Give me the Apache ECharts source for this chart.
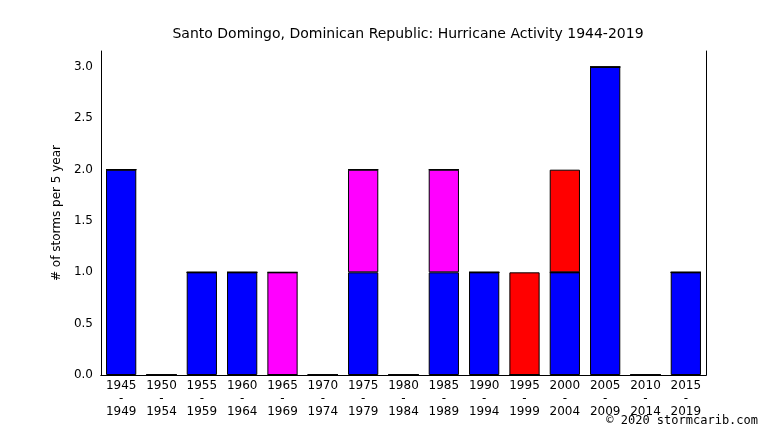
<!DOCTYPE html>
<html>
<head>
<meta charset="utf-8">
<script src="https://cdn.jsdelivr.net/npm/echarts@6/dist/echarts.min.js"></script>
<style>body{margin:0;background:#fff}#c{width:766px;height:431px}</style>
</head>
<body>
<div id="c"></div>
<script>
var periods = ['1945\n-\n1949','1950\n-\n1954','1955\n-\n1959','1960\n-\n1964','1965\n-\n1969','1970\n-\n1974','1975\n-\n1979','1980\n-\n1984','1985\n-\n1989','1990\n-\n1994','1995\n-\n1999','2000\n-\n2004','2005\n-\n2009','2010\n-\n2014','2015\n-\n2019'];
var blueVals    = [2,0,1,1,0,0,1,0,1,1,0,1,3,0,1];
var magentaVals = [0,0,0,0,1,0,1,0,1,0,0,0,0,0,0];
var redVals     = [0,0,0,0,0,0,0,0,0,0,1,1,0,0,0];

var chart = echarts.init(document.getElementById('c'));
var font = 'DejaVu Sans';
function bar(name, data, color) {
  return {name: name, type: 'bar', stack: 's', data: data, barWidth: '75%',
    itemStyle: {color: color, borderColor: '#000', borderWidth: 1}};
}
chart.setOption({
  animation: false,
  title: {text: 'Santo Domingo, Dominican Republic: Hurricane Activity 1944-2019', left: 403, top: 22, textAlign: 'center',
    textStyle: {fontFamily: font, fontSize: 14, fontWeight: 'normal', color: '#000'}},
  graphic: [{type: 'text', right: 8, bottom: 4, style: {text: '© 2020 stormcarib.com', fontFamily: 'DejaVu Sans Mono', fontSize: 12, fill: '#000'}}],
  grid: {left: 101, right: 60, top: 51, bottom: 56},
  xAxis: [{type: 'category', data: periods,
    axisLine: {lineStyle: {color: '#000'}},
    axisTick: {inside: true, alignWithLabel: true, length: 16, lineStyle: {color: '#000'}},
    axisLabel: {interval: 0, color: '#000', fontFamily: font, fontSize: 12, lineHeight: 13, margin: 4}},
    {type: 'category', data: periods, position: 'top',
    axisLine: {lineStyle: {color: '#000'}},
    axisTick: {inside: true, alignWithLabel: true, length: 16, lineStyle: {color: '#000'}},
    axisLabel: {show: false}}],
  yAxis: [{type: 'value', min: 0, max: 3.156, interval: 0.5, name: '# of storms per 5 year', nameLocation: 'middle', nameGap: 36,
    nameTextStyle: {fontFamily: font, fontSize: 12, color: '#000'},
    axisLine: {show: true, lineStyle: {color: '#000'}},
    axisTick: {inside: true, length: 8, lineStyle: {color: '#000'}},
    splitLine: {show: false},
    axisLabel: {showMaxLabel: false, formatter: function(v){return v.toFixed(1);}, color: '#000', fontFamily: font, fontSize: 12}},
    {type: 'value', min: 0, max: 3.156, interval: 0.5, position: 'right',
    axisLine: {show: true, lineStyle: {color: '#000'}},
    axisTick: {inside: true, length: 8, lineStyle: {color: '#000'}},
    splitLine: {show: false}, axisLabel: {show: false}}],
  series: [bar('blue', blueVals, '#0000ff'), bar('magenta', magentaVals, '#ff00ff'), bar('red', redVals, '#ff0000')]
});
</script>
</body>
</html>
